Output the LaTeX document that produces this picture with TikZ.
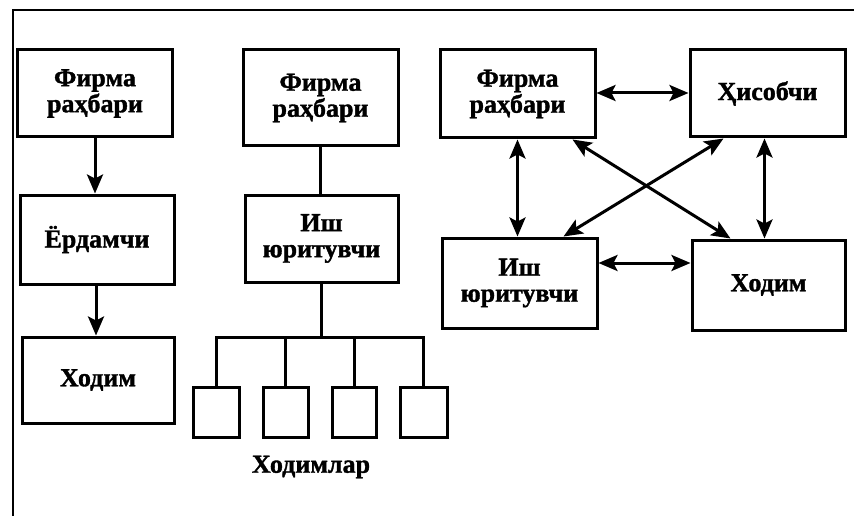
\documentclass[tikz,border=0pt]{standalone}
\usepackage{fontspec}
\setmainfont{Liberation Serif}
\newfontfamily\heavy[BoldFont={Liberation Serif Bold},BoldFeatures={FakeBold=1.4}]{Liberation Serif}
\usetikzlibrary{arrows.meta}
\begin{document}
\begin{tikzpicture}[x=1pt,y=-1pt,
  box/.style={draw,line width=3pt,inner sep=0pt,align=center,font=\heavy\bfseries\fontsize{26}{26}\selectfont},
  sbox/.style={draw,line width=3pt,inner sep=0pt,minimum height=50,minimum width=46},
  conn/.style={line width=3pt},
  tip/.tip={Stealth[length=19pt,width=16pt,inset=4pt]},
  arr/.style={line width=3pt,-tip},
  darr/.style={line width=3pt,tip-tip},
  lbl/.style={font=\heavy\bfseries\fontsize{26}{26}\selectfont},
  frame/.style={line width=2.5pt}
]
\useasboundingbox (0,0) rectangle (854,516);
\draw[frame] (854,10) -- (13,10) -- (13,516);

% left column
\node[box,minimum width=155,minimum height=87] (a1) at (95,93.5) {Фирма\\раҳбари};
\node[box,minimum width=154,minimum height=89] (a2) at (97,239.5) {Ёрдамчи};
\node[box,minimum width=152,minimum height=86] (a3) at (98,380) {Ходим};
\draw[arr] (a1.south) -- (a1.south |- a2.north);
\draw[arr] ([xshift=-1pt]a2.south) -- ([xshift=-1pt]a2.south |- a3.north);

% middle column
\node[box,minimum width=155,minimum height=96] (b1) at (320.5,98) {Фирма\\раҳбари};
\node[box,minimum width=153,minimum height=87] (b2) at (321.5,238.5) {Иш\\юритувчи};
\coordinate (bus) at (320.5,337);
\node[sbox] (c1) at (216.5,412) {};
\node[sbox,minimum width=45] (c2) at (285.5,412) {};
\node[sbox,minimum width=44] (c3) at (354,412) {};
\node[sbox,minimum width=47] (c4) at (423.5,412) {};
\draw[conn] (b1.south) -- (b1.south |- b2.north);
\draw[conn] (b2.south) -- (b2.south |- bus);
\draw[conn] (c1.north) -- (c1.north |- bus) -- (c4.north |- bus) -- (c4.north);
\draw[conn] (c2.north) -- (c2.north |- bus);
\draw[conn] (c3.north) -- (c3.north |- bus);
\node[lbl] (hl) at (311,467) {Ходимлар};

% right group
\node[box,minimum width=155,minimum height=88] (d1) at (517.5,94) {Фирма\\раҳбари};
\node[box,minimum width=155,minimum height=87] (d2) at (767.5,93.5) {Ҳисобчи};
\node[box,minimum width=155,minimum height=90] (d3) at (519.5,283) {Иш\\юритувчи};
\node[box,minimum width=153,minimum height=90] (d4) at (768.5,285) {Ходим};
\draw[darr] ([yshift=1pt]d1.east) -- ([yshift=1pt]d1.east -| d2.west);
\draw[darr] ([yshift=20pt]d3.east) -- ([yshift=20pt]d3.east -| d4.west);
\draw[darr] (d1.south) -- (d1.south |- d3.north);
\draw[darr] ([xshift=-3pt]d2.south) -- ([xshift=-3pt]d2.south |- d4.north);
\draw[darr] ([xshift=55pt]d1.south) -- ([xshift=-38pt]d4.north);
\draw[darr] ([xshift=-44pt]d2.south) -- ([xshift=44pt]d3.north);
\end{tikzpicture}
\end{document}
